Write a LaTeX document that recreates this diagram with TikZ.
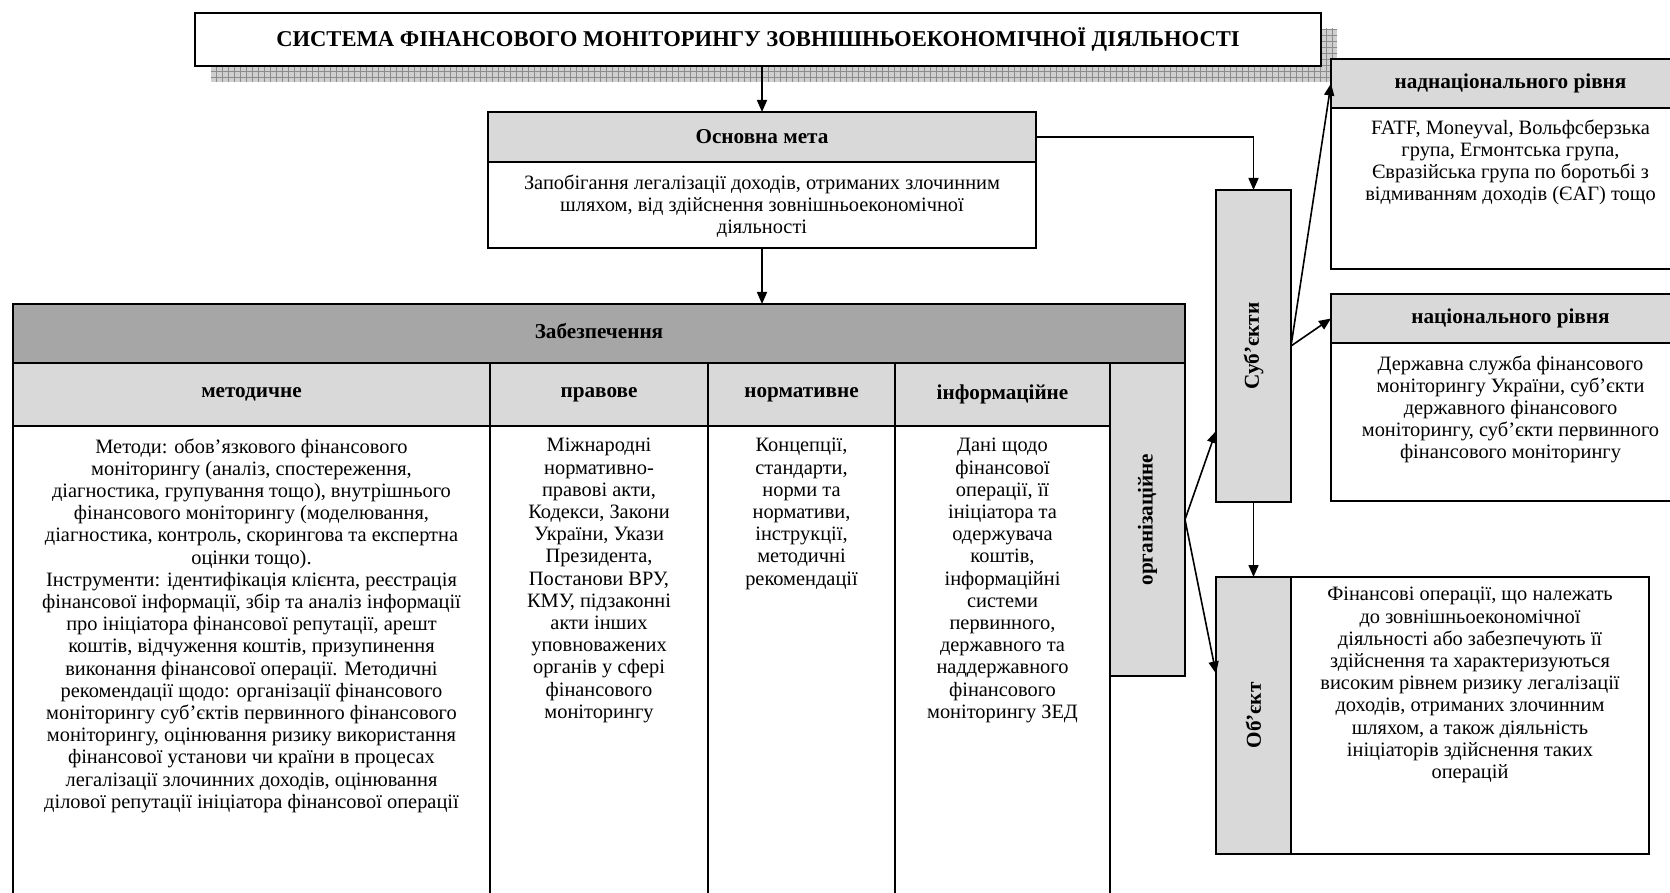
\documentclass[tikz,border=0pt]{standalone}
\usepackage{graphicx}
\usepackage{fontspec}
\setmainfont{Liberation Serif}
\usetikzlibrary{arrows.meta}
\usetikzlibrary{positioning}
\usetikzlibrary{calc}
\usetikzlibrary{patterns}
\definecolor{lightfill}{HTML}{D9D9D9}
\definecolor{mainfill}{HTML}{A6A6A6}
\definecolor{shadowfill}{HTML}{CFCFCF}

\begin{document}
\begin{tikzpicture}[
        x=0.5pt, y=-0.5pt,
        font=\fontsize{10.2}{11.1}\selectfont,
        box/.style={draw, line width=1pt, outer sep=0pt, inner sep=0pt},
        headbox/.style={box, fill=lightfill, font=\fontsize{10.6}{11.1}\selectfont\bfseries},
        textbox/.style={box, fill=white},
        txt/.style={align=center, inner sep=0pt},
        arrow/.style={-{Triangle[length=6pt, width=5pt]}, line width=0.8pt},
    ]
    \useasboundingbox (0,0) rectangle (1670,893);

    % title with shadow
    \fill[shadowfill] (211,29) rectangle (1337,82);
    \fill[pattern=grid, pattern color=gray!90] (211,29) rectangle (1337,82);
    \node[textbox, minimum width=563pt, minimum height=26.5pt, font=\fontsize{11.3}{13}\selectfont\bfseries] (title) at (758,39.5)
        {СИСТЕМА ФІНАНСОВОГО МОНІТОРИНГУ ЗОВНІШНЬОЕКОНОМІЧНОЇ ДІЯЛЬНОСТІ};

    % main goal
    \node[headbox, minimum width=274pt, minimum height=25pt] (aimhead) at (762,137) {Основна мета};
    \node[textbox, minimum width=274pt, minimum height=43pt, below=0pt of aimhead] (aimbody) {};
    \node[txt, below=6pt of aimbody.north] (aimtxt)
        {Запобігання легалізації доходів, отриманих злочинним\\
         шляхом, від здійснення зовнішньоекономічної\\
         діяльності};

    % support
    \node[box, fill=mainfill, minimum width=586pt, minimum height=29.5pt, font=\fontsize{10.6}{11.1}\selectfont\bfseries] (secure) at (599,333.5) {\raisebox{3pt}{Забезпечення}};
    \node[headbox, anchor=north west, minimum width=238.5pt, minimum height=31.5pt] (metodh) at (13,363) {\raisebox{2pt}{методичне}};
    \node[headbox, right=0pt of metodh, minimum width=109pt, minimum height=31.5pt] (pravh) {\raisebox{2pt}{правове}};
    \node[headbox, right=0pt of pravh, minimum width=93.5pt, minimum height=31.5pt] (normh) {\raisebox{2pt}{нормативне}};
    \node[headbox, right=0pt of normh, minimum width=107.5pt, minimum height=31.5pt] (infoh) {\raisebox{2pt}{інформаційне}};
    \node[headbox, anchor=north west, minimum width=37.5pt, minimum height=156.5pt] (org) at (infoh.north east) {\rotatebox{90}{організаційне}};

    \node[textbox, below=0pt of metodh, minimum width=238.5pt, minimum height=252pt] (metodb) {};
    \node[textbox, below=0pt of pravh, minimum width=109pt, minimum height=252pt] (pravb) {};
    \node[textbox, below=0pt of normh, minimum width=93.5pt, minimum height=252pt] (normb) {};
    \node[textbox, below=0pt of infoh, minimum width=107.5pt, minimum height=252pt] (infob) {};

    \node[txt, below=6pt of metodb.north] (metodtxt)
        {Методи: обов’язкового фінансового\\
         моніторингу (аналіз, спостереження,\\
         діагностика, групування тощо), внутрішнього\\
         фінансового моніторингу (моделювання,\\
         діагностика, контроль, скорингова та експертна\\
         оцінки тощо).\\
         Інструменти: ідентифікація клієнта, реєстрація\\
         фінансової інформації, збір та аналіз інформації\\
         про ініціатора фінансової репутації, арешт\\
         коштів, відчуження коштів, призупинення\\
         виконання фінансової операції. Методичні\\
         рекомендації щодо: організації фінансового\\
         моніторингу суб’єктів первинного фінансового\\
         моніторингу, оцінювання ризику використання\\
         фінансової установи чи країни в процесах\\
         легалізації злочинних доходів, оцінювання\\
         ділової репутації ініціатора фінансової операції};
    \node[txt, below=6pt of pravb.north] (pravtxt)
        {Міжнародні\\нормативно-\\правові акти,\\Кодекси, Закони\\України, Укази\\Президента,\\Постанови ВРУ,\\КМУ, підзаконні\\акти інших\\уповноважених\\органів у сфері\\фінансового\\моніторингу};
    \node[txt, below=6pt of normb.north] (normtxt)
        {Концепції,\\стандарти,\\норми та\\нормативи,\\інструкції,\\методичні\\рекомендації};
    \node[txt, below=6pt of infob.north] (infotxt)
        {Дані щодо\\фінансової\\операції, її\\ініціатора та\\одержувача\\коштів,\\інформаційні\\системи\\первинного,\\державного та\\наддержавного\\фінансового\\моніторингу ЗЕД};

    % subjects and object
    \node[headbox, minimum width=37.5pt, minimum height=156pt] (subj) at (1253.5,346) {\rotatebox{90}{Суб’єкти}};
    \node[headbox, anchor=north west, minimum width=37.5pt, minimum height=138.5pt] (objlab) at (1216,577) {\rotatebox{90}{Об’єкт}};
    \node[textbox, right=0pt of objlab, minimum width=179pt, minimum height=138.5pt] (objbody) {};
    \node[txt, below=5pt of objbody.north] (objtxt)
        {Фінансові операції, що належать\\
         до зовнішньоекономічної\\
         діяльності або забезпечують її\\
         здійснення та характеризуються\\
         високим рівнем ризику легалізації\\
         доходів, отриманих злочинним\\
         шляхом, а також діяльність\\
         ініціаторів здійснення таких\\
         операцій};

    % levels
    \node[headbox, anchor=north west, minimum width=179.5pt, minimum height=24.5pt] (overhead) at (1331,59) {наднаціонального рівня};
    \node[textbox, below=0pt of overhead, minimum width=179.5pt, minimum height=80.5pt] (overbody) {};
    \node[txt, below=5.5pt of overbody.north] (overtxt)
        {FATF, Moneyval, Вольфсберзька\\
         група, Егмонтська група,\\
         Євразійська група по боротьбі з\\
         відмиванням доходів (ЄАГ) тощо};
    \node[headbox, anchor=north west, minimum width=179.5pt, minimum height=24.5pt] (nathead) at (1331,294) {національного рівня};
    \node[textbox, below=0pt of nathead, minimum width=179.5pt, minimum height=79pt] (natbody) {};
    \node[txt, below=6pt of natbody.north] (nattxt)
        {Державна служба фінансового\\
         моніторингу України, суб’єкти\\
         державного фінансового\\
         моніторингу, суб’єкти первинного\\
         фінансового моніторингу};

    % connectors
    \draw[arrow] (aimhead.north |- title.south) -- (aimhead.north);
    \draw[arrow] (aimbody.south) -- (aimbody.south |- secure.north);
    \draw[arrow] (aimhead.east) -| (subj.north);
    \draw[arrow] (subj.east) -- (overhead.west);
    \draw[arrow] (subj.east) -- (nathead.west);
    \draw[arrow] (org.east) -- ($(subj.west)+(0,85)$);
    \draw[arrow] (org.east) -- ($(objlab.west)+(0,-42)$);
    \draw[arrow] (subj.south) -- (objlab.north);
\end{tikzpicture}
\end{document}
